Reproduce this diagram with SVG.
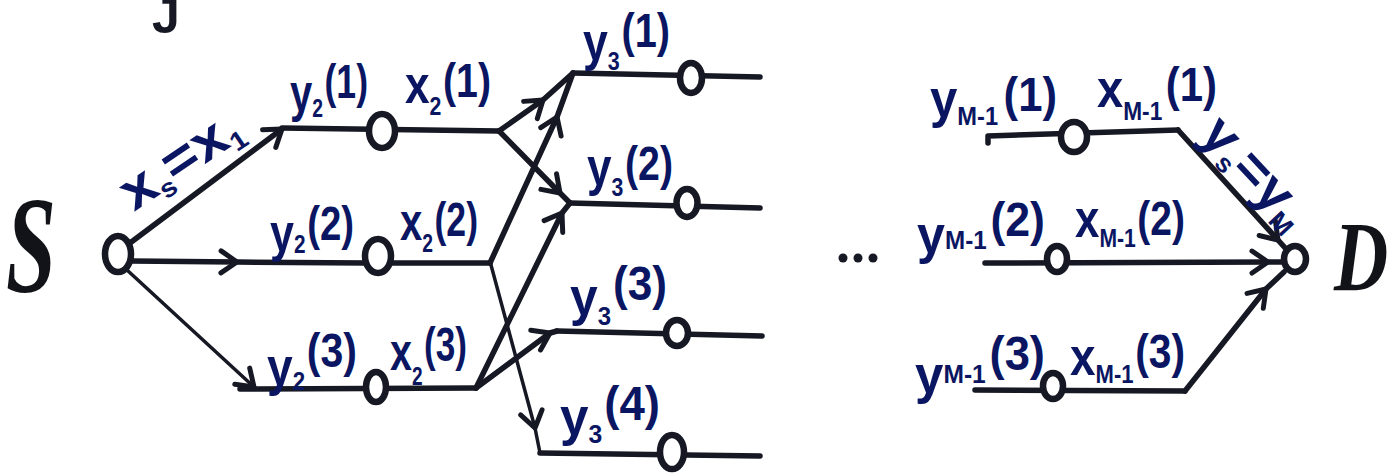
<svg xmlns="http://www.w3.org/2000/svg" width="1400" height="474" viewBox="0 0 1400 474">
<style>
.ln{fill:none;stroke:#161823;stroke-width:5.5;stroke-linecap:round;stroke-linejoin:round}
.thin{stroke-width:3.5}
.nd{fill:#fff;stroke:#161823;stroke-width:6.5}
.lb{font-family:"Liberation Sans",Arial,sans-serif;font-weight:bold;fill:#0b1663}
.m{font-size:54px}.s{font-size:26px}.p{font-size:48px}
.big{font-family:"Liberation Serif","Times New Roman",serif;font-style:italic;font-weight:bold;fill:#111318}
</style>
<defs>
<marker id="arr" viewBox="-20 -14 24 28" refX="0" refY="0" markerWidth="24" markerHeight="28" markerUnits="userSpaceOnUse" orient="auto" overflow="visible">
<path d="M-16,-11 L0,0 L-16,11" fill="none" stroke="#161823" stroke-width="5" stroke-linecap="round" stroke-linejoin="round"/>
</marker>
</defs>
<rect width="1400" height="474" fill="#fff"/>
<text x="152" y="33" font-family="Liberation Sans,Arial,sans-serif" font-weight="bold" font-size="50" fill="#161823">J</text>
<g id="connectors">
<path class="ln" d="M126,246 L282,129" marker-end="url(#arr)"/>
<path class="ln" d="M282,128 L499,131"/>
<path class="ln" d="M131,261 L237,262 L366,263" marker-mid="url(#arr)"/>
<path class="ln" d="M366,263 L490,263"/>
<path class="ln thin" d="M127,270 L254,387" marker-end="url(#arr)"/>
<path class="ln" d="M240,389 L476,388"/>
<path class="ln" d="M499,131 L543,100 L573,73" marker-mid="url(#arr)"/>
<path class="ln" d="M499,131 L560,193 L570,203" marker-mid="url(#arr)"/>
<path class="ln" d="M490,263 L557,117 L573,73" marker-mid="url(#arr)"/>
<path class="ln thin" d="M491,265 L535,428 L540,453" marker-mid="url(#arr)"/>
<path class="ln" d="M476,388 L562,213 L570,203" marker-mid="url(#arr)"/>
<path class="ln" d="M476,388 L550,333 L557,331" marker-mid="url(#arr)"/>
<path class="ln" d="M573,73 L760,77"/>
<path class="ln" d="M570,203 L760,208"/>
<path class="ln" d="M557,331 L762,336"/>
<path class="ln" d="M540,453 L760,456"/>
<path class="ln" d="M988,143 L988,136 L1178,130"/>
<path class="ln" d="M1178,130 L1278,240 L1287,250" marker-mid="url(#arr)"/>
<path class="ln" d="M985,263 L1268,262 L1284,262" marker-mid="url(#arr)"/>
<path class="ln" d="M975,390 L1185,391"/>
<path class="ln" d="M1185,391 L1266,289 L1284,272" marker-mid="url(#arr)"/>
</g>
<g id="dots" fill="#161823"><circle cx="843" cy="258" r="4.5"/><circle cx="858" cy="258" r="4.5"/><circle cx="873" cy="258" r="4.5"/></g>
<g id="S">
<ellipse class="nd" cx="118" cy="254" rx="13" ry="18"/>
<text class="big" font-size="125" transform="translate(6,292) scale(0.72,1.1)">S</text>
<text class="lb" transform="translate(134,212) rotate(-34)" textLength="135" lengthAdjust="spacingAndGlyphs"><tspan class="m">x</tspan><tspan class="s" dy="8">s</tspan><tspan class="m" dy="-8">=x</tspan><tspan class="s" dy="8">1</tspan></text>
</g>
<g id="n2-1">
<ellipse class="nd" cx="382" cy="131" rx="13" ry="17"/>
<text class="lb" x="290" y="111" textLength="78" lengthAdjust="spacingAndGlyphs"><tspan class="m">y</tspan><tspan class="s" y="117">2</tspan><tspan class="p" y="98" dx="2">(1)</tspan></text>
<text class="lb" x="405" y="103" textLength="86" lengthAdjust="spacingAndGlyphs"><tspan class="m">x</tspan><tspan class="s" y="115">2</tspan><tspan class="p" y="97" dx="2">(1)</tspan></text>
</g>
<g id="n2-2">
<ellipse class="nd" cx="378" cy="256" rx="13" ry="17"/>
<text class="lb" x="270" y="251" textLength="84" lengthAdjust="spacingAndGlyphs"><tspan class="m">y</tspan><tspan class="s" y="253">2</tspan><tspan class="p" y="240" dx="2">(2)</tspan></text>
<text class="lb" x="400" y="240" textLength="78" lengthAdjust="spacingAndGlyphs"><tspan class="m">x</tspan><tspan class="s" y="252">2</tspan><tspan class="p" y="236" dx="2">(2)</tspan></text>
</g>
<g id="n2-3">
<ellipse class="nd" cx="376" cy="387" rx="10" ry="15"/>
<text class="lb" x="267" y="385" textLength="90" lengthAdjust="spacingAndGlyphs"><tspan class="m">y</tspan><tspan class="s" y="390">2</tspan><tspan class="p" y="367" dx="2">(3)</tspan></text>
<text class="lb" x="390" y="370" textLength="77" lengthAdjust="spacingAndGlyphs"><tspan class="m">x</tspan><tspan class="s" y="385">2</tspan><tspan class="p" y="361" dx="2">(3)</tspan></text>
</g>
<g id="n3-1">
<ellipse class="nd" cx="691" cy="78" rx="11" ry="15"/>
<text class="lb" x="583" y="60" textLength="87" lengthAdjust="spacingAndGlyphs"><tspan class="m">y</tspan><tspan class="s" y="70">3</tspan><tspan class="p" y="47" dx="2">(1)</tspan></text>
</g>
<g id="n3-2">
<ellipse class="nd" cx="687" cy="203" rx="10.5" ry="14"/>
<text class="lb" x="587" y="185" textLength="86" lengthAdjust="spacingAndGlyphs"><tspan class="m">y</tspan><tspan class="s" y="196">3</tspan><tspan class="p" y="180" dx="2">(2)</tspan></text>
</g>
<g id="n3-3">
<ellipse class="nd" cx="677" cy="333" rx="11" ry="13"/>
<text class="lb" x="570" y="315" textLength="97" lengthAdjust="spacingAndGlyphs"><tspan class="m">y</tspan><tspan class="s" y="325">3</tspan><tspan class="p" y="300" dx="2">(3)</tspan></text>
</g>
<g id="n3-4">
<ellipse class="nd" cx="672" cy="452" rx="12" ry="17"/>
<text class="lb" x="560" y="435" textLength="100" lengthAdjust="spacingAndGlyphs"><tspan class="m">y</tspan><tspan class="s" y="443">3</tspan><tspan class="p" y="420" dx="2">(4)</tspan></text>
</g>
<g id="nM-1">
<ellipse class="nd" cx="1074" cy="137" rx="13" ry="15"/>
<text class="lb" x="930" y="117" textLength="127" lengthAdjust="spacingAndGlyphs"><tspan class="m">y</tspan><tspan class="s" y="125">M-1</tspan><tspan class="p" y="111" dx="6">(1)</tspan></text>
<text class="lb" x="1097" y="107" textLength="120" lengthAdjust="spacingAndGlyphs"><tspan class="m">x</tspan><tspan class="s" y="120">M-1</tspan><tspan class="p" y="101" dx="4">(1)</tspan></text>
</g>
<g id="nM-2">
<ellipse class="nd" cx="1057" cy="259" rx="10" ry="13"/>
<text class="lb" x="917" y="253" textLength="128" lengthAdjust="spacingAndGlyphs"><tspan class="m">y</tspan><tspan class="s" y="249">M-1</tspan><tspan class="p" y="236" dx="4">(2)</tspan></text>
<text class="lb" x="1075" y="237" textLength="110" lengthAdjust="spacingAndGlyphs"><tspan class="m">x</tspan><tspan class="s" y="247">M-1</tspan><tspan class="p" y="235" dx="2">(2)</tspan></text>
</g>
<g id="nM-3">
<ellipse class="nd" cx="1053" cy="386" rx="10" ry="13"/>
<text class="lb" x="915" y="393" textLength="130" lengthAdjust="spacingAndGlyphs"><tspan class="m">y</tspan><tspan class="s" y="383">M-1</tspan><tspan class="p" y="370" dx="4">(3)</tspan></text>
<text class="lb" x="1070" y="375" textLength="115" lengthAdjust="spacingAndGlyphs"><tspan class="m">x</tspan><tspan class="s" y="383">M-1</tspan><tspan class="p" y="368" dx="2">(3)</tspan></text>
</g>
<g id="D">
<ellipse class="nd" cx="1295" cy="259" rx="11" ry="13"/>
<text class="big" font-size="100" transform="translate(1334,290) scale(0.75,1)">D</text>
<text class="lb" transform="translate(1198,136) rotate(47)" textLength="132" lengthAdjust="spacingAndGlyphs"><tspan class="m">y</tspan><tspan class="s" dy="8">s</tspan><tspan class="m" dy="-8">=y</tspan><tspan class="s" dy="8">M</tspan></text>
</g>
</svg>
